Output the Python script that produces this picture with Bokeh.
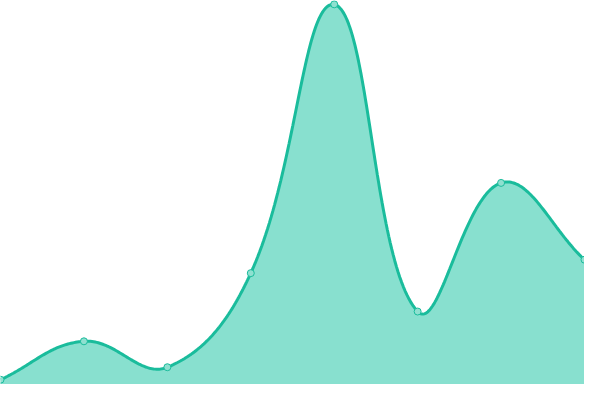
import numpy as np
from bokeh.plotting import figure
from bokeh.models import Range1d
from bokeh.embed import file_html
from bokeh.resources import INLINE

# data
labels = ["A", "B", "C", "D", "E", "F", "G", "H"]
values = [5, 45, 18, 116, 396, 76, 210, 130]

W, H = 584, 384
Y_MAX = 400
n = len(values)
xs = list(range(n))

# Chart.js-style spline (tension 0.4) computed in screen-proportional units
tension = 0.4
sx = W / (n - 1)
sy = H / Y_MAX
P = [(x * sx, v * sy) for x, v in zip(xs, values)]

cps = []
for i in range(n):
    prev = P[max(i - 1, 0)]
    cur = P[i]
    nxt = P[min(i + 1, n - 1)]
    d01 = np.hypot(cur[0] - prev[0], cur[1] - prev[1])
    d12 = np.hypot(nxt[0] - cur[0], nxt[1] - cur[1])
    s01 = d01 / (d01 + d12) if d01 + d12 else 0
    s12 = d12 / (d01 + d12) if d01 + d12 else 0
    fa = tension * s01
    fb = tension * s12
    cp_prev = (cur[0] - fa * (nxt[0] - prev[0]), cur[1] - fa * (nxt[1] - prev[1]))
    cp_next = (cur[0] + fb * (nxt[0] - prev[0]), cur[1] + fb * (nxt[1] - prev[1]))
    # cap within chart area
    cp_prev = (min(max(cp_prev[0], 0), W), min(max(cp_prev[1], 0), H))
    cp_next = (min(max(cp_next[0], 0), W), min(max(cp_next[1], 0), H))
    cps.append((cp_prev, cp_next))

cx, cy = [], []
t = np.linspace(0, 1, 60)
for i in range(n - 1):
    p0 = np.array(P[i]); p3 = np.array(P[i + 1])
    p1 = np.array(cps[i][1]); p2 = np.array(cps[i + 1][0])
    seg = ((1 - t)[:, None] ** 3 * p0 + 3 * ((1 - t) ** 2 * t)[:, None] * p1
           + 3 * ((1 - t) * t ** 2)[:, None] * p2 + (t ** 3)[:, None] * p3)
    if i > 0:
        seg = seg[1:]
    cx.extend(seg[:, 0] / sx)
    cy.extend(seg[:, 1] / sy)

p = figure(width=W, height=H, output_backend="svg", toolbar_location=None,
           x_range=Range1d(0, n - 1), y_range=Range1d(0, Y_MAX),
           min_border=0, min_border_left=0, min_border_right=0,
           min_border_top=0, min_border_bottom=0)
p.axis.visible = False
p.grid.visible = False
p.outline_line_color = None
p.background_fill_color = "white"
p.border_fill_color = "white"

p.patch([xs[0]] + cx + [xs[-1]], [0] + cy + [0], fill_color="#88e0cf", line_color=None)
p.line(cx, cy, line_color="#1abc9c", line_width=3)
p.scatter(xs, values, size=7, fill_color="#8fe0d0", line_color="#1abc9c", line_width=1)

open("out.html", "w").write(file_html(p, INLINE))
